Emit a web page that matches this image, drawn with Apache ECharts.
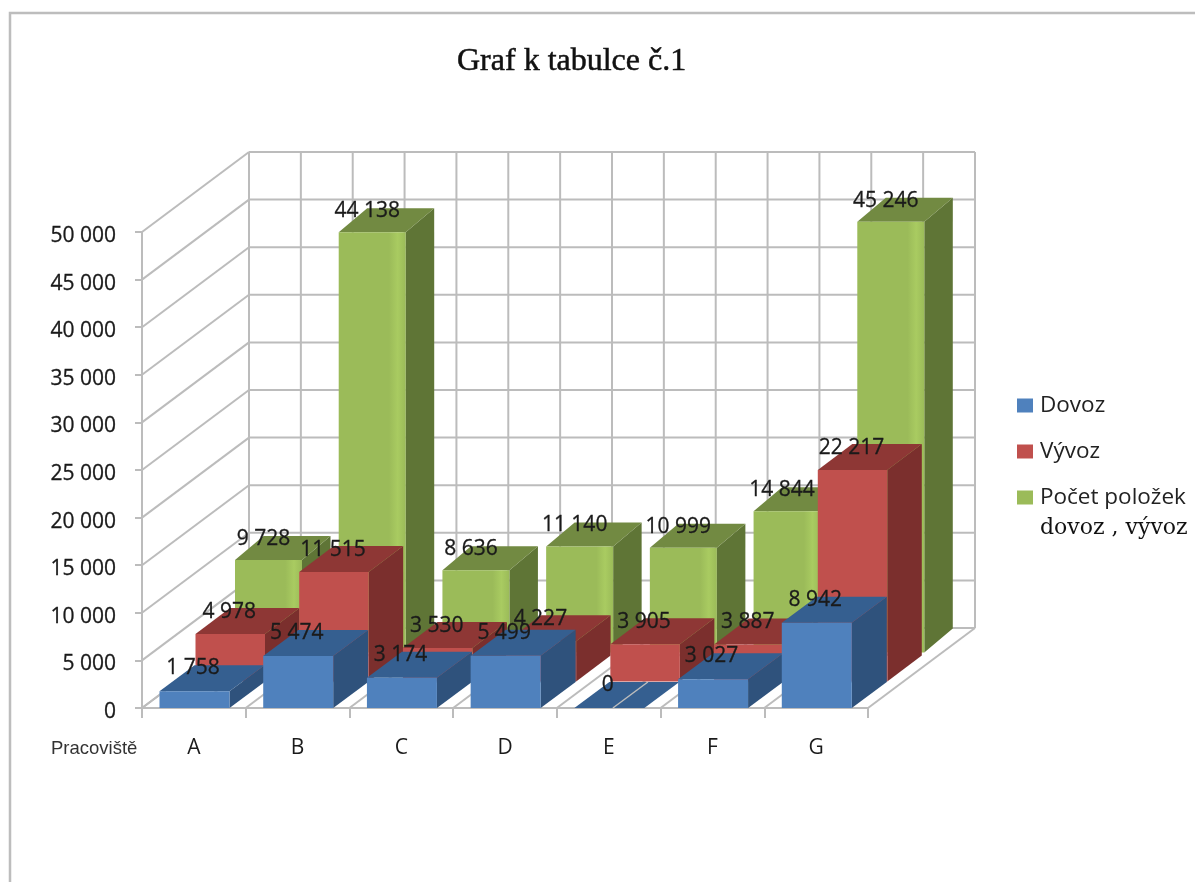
<!DOCTYPE html>
<html>
<head>
<meta charset="utf-8">
<style>html,body{margin:0;padding:0;background:#fff}#c{width:1195px;height:882px;filter:blur(0.6px)}</style>
<script src="https://cdn.jsdelivr.net/npm/echarts@6/dist/echarts.min.js"></script>
</head>
<body>
<div id="c"></div>
<script>
const categories = ['A', 'B', 'C', 'D', 'E', 'F', 'G'];
const dovoz = [1758, 5474, 3174, 5499, 0, 3027, 8942];
const vyvoz = [4978, 11515, 3530, 4227, 3905, 3887, 22217];
const pocet = [9728, 44138, 8636, 11140, 10999, 14844, 45246];
const wallValues = [0, 5000, 10000, 15000, 20000, 25000, 30000, 35000, 40000, 45000, 50000];

const fmt = v => String(v).replace(/\B(?=(\d{3})+(?!\d))/g, ' ');
const LABEL_FONT = 'Open Sans';
const INK = '#1a1a1a';
const WALL = '#bcbcbc';
const DEPTH = {dx: 107, dy: -80};

function wallItem(params, api) {
  const v = api.value(0);
  const p = api.coord([0, v]);
  const cs = params.coordSys;
  const x0 = cs.x, x1 = cs.x + cs.width, y = p[1];
  const line = (a, b, c, d) => ({type: 'line', z2: 0, shape: {x1: a, y1: b, x2: c, y2: d},
    style: {stroke: WALL, lineWidth: 2}});
  const kids = [
    line(x0, y, x0 + DEPTH.dx, y + DEPTH.dy),
    line(x0 + DEPTH.dx, y + DEPTH.dy, x1 + DEPTH.dx, y + DEPTH.dy)
  ];
  if (params.dataIndex === 0) {
    const floorY = cs.y + cs.height;
    for (let i = 0; i <= 14; i++) {
      const x = x0 + cs.width * i / 14;
      kids.push(line(x + DEPTH.dx, floorY + DEPTH.dy, x + DEPTH.dx, cs.y + DEPTH.dy));
      kids.push(line(x, floorY, x + DEPTH.dx, floorY + DEPTH.dy));
    }
  }
  return {type: 'group', children: kids};
}

function barRenderer(cfg) {
  return function (params, api) {
    const cat = api.value(0), val = api.value(1);
    const band = api.size([1, 0])[0];
    const base = api.coord([cat, 0]);
    const top = api.coord([cat, val]);
    const l = base[0] - band / 2 + cfg.left;
    const r = l + cfg.width;
    const by = base[1] + cfg.rowY;
    const ty = top[1] + cfg.rowY;
    const dx = cfg.dx, dy = cfg.dy;
    const poly = (pts, fill, z2) => ({type: 'polygon', z2: z2, shape: {points: pts}, style: {fill: fill}});
    const front = {type: 'linear', x: 0, y: 0, x2: 1, y2: 0, colorStops: [
      {offset: 0, color: cfg.front}, {offset: 0.75, color: cfg.front},
      {offset: 0.88, color: cfg.glow}, {offset: 1, color: cfg.front}]};
    const kids = [
      poly([[r, by], [r + dx, by + dy], [r + dx, ty + dy], [r, ty]], cfg.side, cfg.z),
      poly([[l, ty], [r, ty], [r + dx, ty + dy], [l + dx, ty + dy]], cfg.top, cfg.z)
    ];
    if (by - ty > 0) kids.push(poly([[l, by], [r, by], [r, ty], [l, ty]], front, cfg.z));
    if (val === 0) kids.push({type: 'line', z2: cfg.z, shape: {x1: l + cfg.width * 0.55, y1: by, x2: l + cfg.width * 0.55 + dx, y2: by + dy},
      style: {stroke: WALL, lineWidth: 1.5}});
    kids.push({type: 'text', z2: 20, style: {
      text: fmt(val), x: (l + r) / 2 + cfg.labelX, y: ty + cfg.labelY,
      fill: INK, stroke: INK, lineWidth: 0.3, font: '21px "' + LABEL_FONT + '"', align: 'center', verticalAlign: 'middle'}});
    return {type: 'group', children: kids};
  };
}

function barSeries(name, values, color, cfg) {
  return {
    name: name, type: 'custom', coordinateSystem: 'cartesian2d', clip: false,
    itemStyle: {color: color},
    encode: {x: 0, y: 1},
    data: values.map((v, i) => [i, v]),
    renderItem: barRenderer(cfg)
  };
}

const chart = echarts.init(document.getElementById('c'), null, {renderer: 'canvas'});
chart.setOption({
  animation: false,
  backgroundColor: '#fff',
  title: [
    {text: 'Graf k tabulce č.1', left: 452, top: 41,
      textStyle: {fontFamily: 'Liberation Serif', fontSize: 32, fontWeight: 'normal', color: '#111',
        textBorderColor: '#111', textBorderWidth: 0.5}},
    {text: 'Pracoviště', left: 46, top: 734,
      textStyle: {fontFamily: 'Liberation Sans', fontSize: 18.5, fontWeight: 'normal', color: '#333'}}
  ],
  grid: {left: 142, top: 232, width: 726, height: 476},
  xAxis: {
    type: 'category', data: categories, boundaryGap: true,
    axisLine: {lineStyle: {color: WALL, width: 2}},
    axisTick: {show: true, length: 10, lineStyle: {color: WALL, width: 2}},
    axisLabel: {margin: 30, fontFamily: LABEL_FONT, fontSize: 21, color: INK}
  },
  yAxis: {
    type: 'value', min: 0, max: 50000, interval: 5000,
    axisLine: {show: true, lineStyle: {color: WALL, width: 2}},
    axisTick: {show: true, length: 7, lineStyle: {color: WALL, width: 2}},
    splitLine: {show: false},
    axisLabel: {margin: 26, verticalAlign: 'top', lineHeight: 8, fontFamily: LABEL_FONT, fontSize: 21, color: INK,
      textBorderColor: INK, textBorderWidth: 0.3, formatter: fmt}
  },
  legend: {
    orient: 'vertical', left: 1012, top: 389, itemWidth: 16, itemHeight: 14, itemGap: 23,
    icon: 'rect', selectedMode: false,
    data: ['Dovoz', 'Vývoz', 'Počet položek'],
    textStyle: {fontFamily: LABEL_FONT, fontSize: 22.5, color: '#222', padding: [0, 0, 0, 2]}
  },
  graphic: [
    {type: 'polyline', silent: true, shape: {points: [[10, 882], [10, 13], [1195, 13]]},
      style: {stroke: '#bdbdbd', fill: 'none', lineWidth: 2.5}},
    {type: 'text', left: 1040, top: 517, silent: true,
      style: {text: 'dovoz , vývoz', font: '22px "DejaVu Serif"', fill: '#111'}}
  ],
  series: [
    {
      name: 'walls', type: 'custom', coordinateSystem: 'cartesian2d', silent: true,
      encode: {y: 0}, data: wallValues.map(v => [v]), renderItem: wallItem
    },
    barSeries('Dovoz', dovoz, '#4F81BD', {left: 17.5, width: 70, rowY: 0, dx: 35, dy: -26,
      front: '#4F81BD', glow: '#4F81BD', top: '#355F90', side: '#2F527C', z: 3, labelX: -1.5, labelY: -23}),
    barSeries('Vývoz', vyvoz, '#C0504D', {left: 53.5, width: 69.5, rowY: -26.5, dx: 34.5, dy: -26,
      front: '#C0504D', glow: '#C0504D', top: '#8E3735', side: '#7B2F2D', z: 2, labelX: -1, labelY: -22}),
    barSeries('Počet položek', pocet, '#9BBB59', {left: 93, width: 67, rowY: -55.5, dx: 28.5, dy: -24,
      front: '#9BBB59', glow: '#a9cb61', top: '#728A42', side: '#5F7536', z: 1, labelX: -5, labelY: -21})
  ]
});
</script>
</body>
</html>
